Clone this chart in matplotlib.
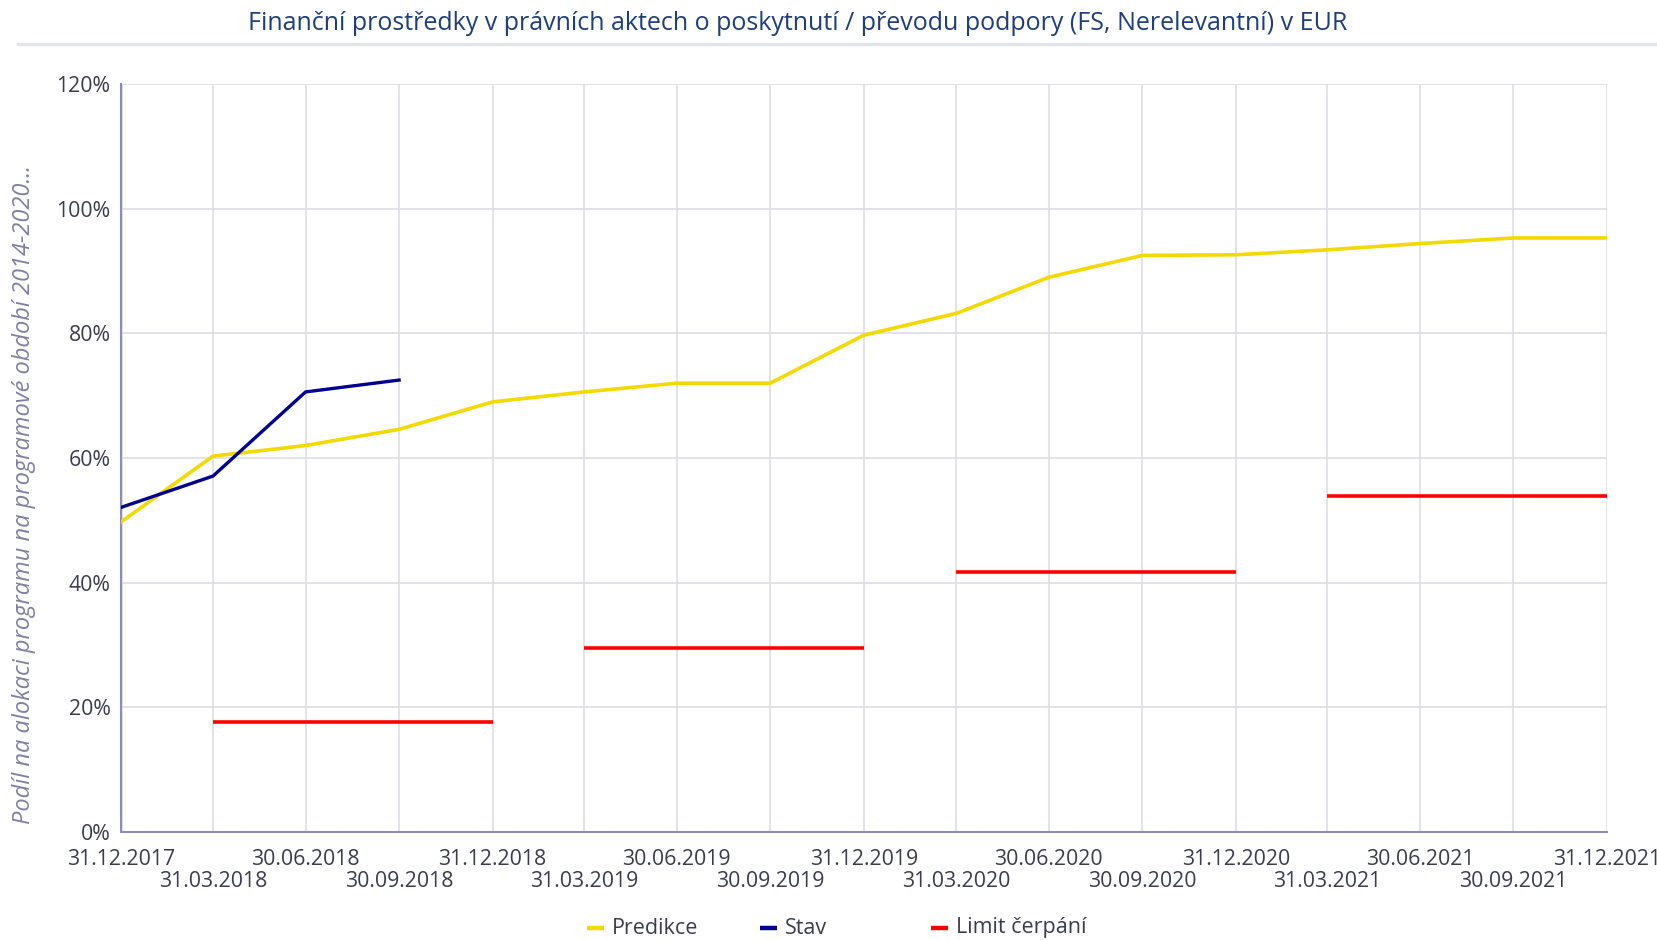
import matplotlib
matplotlib.use("Agg")
import matplotlib.pyplot as plt
from matplotlib.lines import Line2D
import datetime as dt

# ---- data ----
dates = ["31.12.2017", "31.03.2018", "30.06.2018", "30.09.2018", "31.12.2018",
         "31.03.2019", "30.06.2019", "30.09.2019", "31.12.2019",
         "31.03.2020", "30.06.2020", "30.09.2020", "31.12.2020",
         "31.03.2021", "30.06.2021", "30.09.2021", "31.12.2021"]
predikce = [49.8, 60.3, 62.0, 64.6, 69.0, 70.6, 72.0, 72.0, 79.7,
            83.2, 89.0, 92.5, 92.6, 93.4, 94.4, 95.3, 95.3]
stav_dates = ["31.12.2017", "31.03.2018", "30.06.2018", "30.09.2018"]
stav = [52.1, 57.1, 70.6, 72.5]
limit_start = ["31.03.2018", "31.03.2019", "31.03.2020", "31.03.2021"]
limit_end = ["31.12.2018", "31.12.2019", "31.12.2020", "31.12.2021"]
limit_values = [17.6, 29.5, 41.7, 53.9]
y_ticks = [0, 20, 40, 60, 80, 100, 120]

title = "Finanční prostředky v právních aktech o poskytnutí / převodu podpory (FS, Nerelevantní) v EUR"
ylabel = "Podíl na alokaci programu na programové období 2014-2020..."

def d(s):
    return dt.datetime.strptime(s, "%d.%m.%Y")

YELLOW = "#F2D900"
BLUE = "#00008F"
RED = "#FF0000"
TXT = "#3C3C50"
GRID = "#DDDDE8"
AXC = "#8C8CB4"

plt.rcParams['font.family'] = ['Open Sans', 'DejaVu Sans']

W, H = 1658, 940
fig = plt.figure(figsize=(W / 100, H / 100), dpi=100)
ax = fig.add_axes([121.5 / W, 1 - 832 / H, (1607 - 121.5) / W, (832 - 84) / H])

xd = [d(s) for s in dates]
ax.plot(xd, predikce, color=YELLOW, lw=2.6, zorder=3)
ax.plot([d(s) for s in stav_dates], stav, color=BLUE, lw=2.4, zorder=4)
for s, e, v in zip(limit_start, limit_end, limit_values):
    ax.plot([d(s), d(e)], [v, v], color=RED, lw=2.6, solid_capstyle='butt', zorder=3)

ax.set_xlim(xd[0], xd[-1])
ax.set_ylim(0, 120)
ax.set_yticks(y_ticks)
ax.set_yticklabels([f"{t}%" for t in y_ticks])
# alternate date labels in two rows: major ticks (upper row), minor ticks (lower row)
ax.set_xticks(xd[0::2])
ax.set_xticklabels(dates[0::2])
ax.set_xticks(xd[1::2], minor=True)
ax.set_xticklabels(dates[1::2], minor=True)
ax.tick_params(axis='both', which='both', length=0, labelsize=15.3, colors=TXT)
ax.tick_params(axis='y', pad=8)
ax.tick_params(axis='x', which='major', pad=12)
ax.tick_params(axis='x', which='minor', pad=28)
ax.grid(True, which='major', color=GRID, lw=1.2)
ax.grid(True, which='minor', axis='x', color=GRID, lw=1.2)
ax.set_axisbelow(True)
for sp in ['top', 'right']:
    ax.spines[sp].set_visible(False)
for sp in ['left', 'bottom']:
    ax.spines[sp].set_color(AXC)
    ax.spines[sp].set_linewidth(1.5)

# title and separator
fig.text(798 / W, 1 - 23 / H, title, ha='center', va='center', fontsize=18, color="#1F3F7A")
fig.add_artist(Line2D([18 / W, 1.0], [1 - 44 / H, 1 - 44 / H], color="#E3E3EA", lw=2.5,
                      transform=fig.transFigure))

# y label
fig.text(24 / W, 1 - 494 / H, ylabel, rotation=90, ha='center', va='center',
         fontsize=17, style='italic', color="#8080A4")

# legend (manual)
leg_items = [("Predikce", YELLOW, 587), ("Stav", BLUE, 760), ("Limit čerpání", RED, 931)]
ly = 1 - 928 / H
for lab, col, x0 in leg_items:
    fig.add_artist(Line2D([x0 / W, (x0 + 17) / W], [ly, ly], color=col, lw=3.2,
                          solid_capstyle='butt', transform=fig.transFigure))
    fig.text((x0 + 25) / W, ly, lab, ha='left', va='center', fontsize=15.5, color=TXT)

fig.savefig("out.png", dpi=100, facecolor="white")
